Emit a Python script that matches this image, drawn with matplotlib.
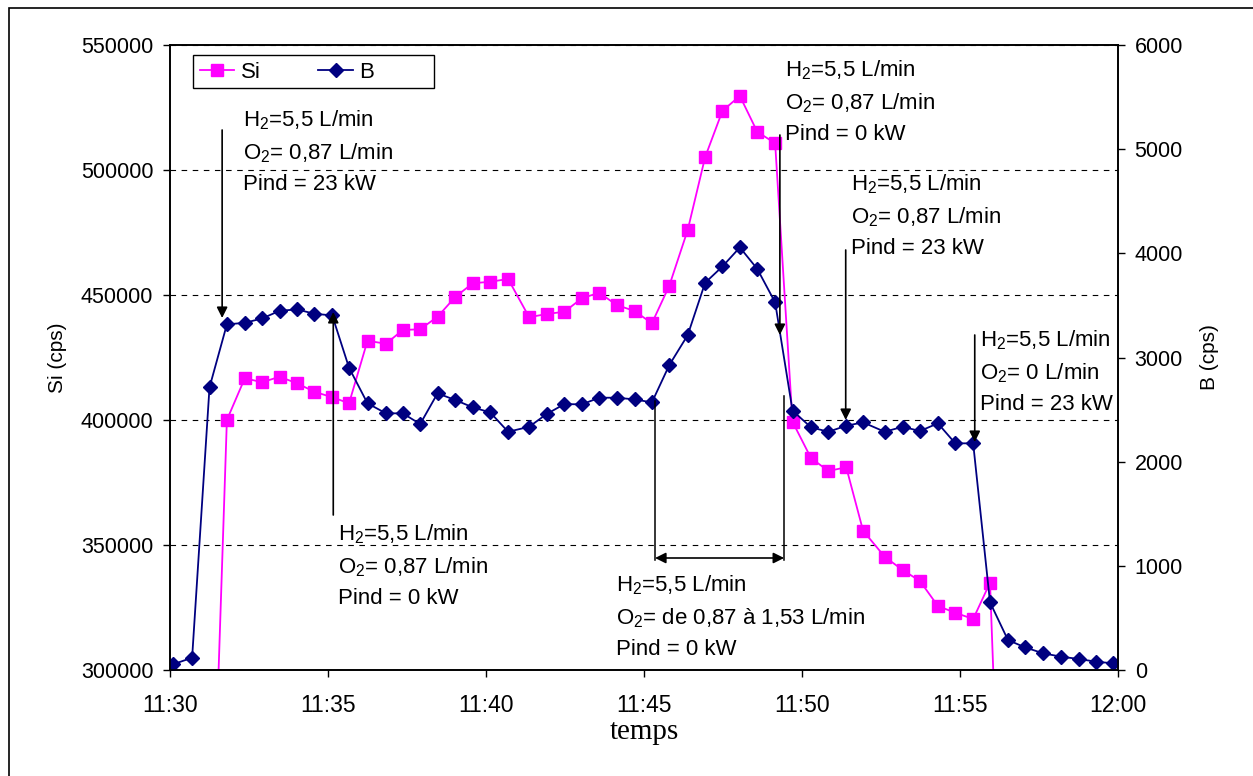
import numpy as np
import pandas as pd
import matplotlib
matplotlib.use("Agg")
import matplotlib.pyplot as plt
import matplotlib.dates as mdates
from matplotlib.patches import Rectangle

plt.rcParams["font.family"] = ["Liberation Sans", "DejaVu Sans"]
plt.rcParams["mathtext.fontset"] = "custom"
plt.rcParams["mathtext.rm"] = "Liberation Sans"

# sampling times (hh:mm:ss), shared by both series
times = [
    "11:30:06", "11:30:42", "11:31:15", "11:31:48", "11:32:22", "11:32:55",
    "11:33:28", "11:34:01", "11:34:34", "11:35:08", "11:35:40", "11:36:15",
    "11:36:50", "11:37:22", "11:37:55", "11:38:28", "11:39:02", "11:39:35",
    "11:40:08", "11:40:42", "11:41:22", "11:41:55", "11:42:29", "11:43:02",
    "11:43:35", "11:44:08", "11:44:42", "11:45:15", "11:45:48", "11:46:23",
    "11:46:56", "11:47:29", "11:48:02", "11:48:35", "11:49:09", "11:49:42",
    "11:50:17", "11:50:50", "11:51:24", "11:51:56", "11:52:37", "11:53:11",
    "11:53:44", "11:54:18", "11:54:51", "11:55:25", "11:55:57", "11:56:31",
    "11:57:03", "11:57:38", "11:58:12", "11:58:45", "11:59:18", "11:59:51",
]

si_cps = [
    np.nan, np.nan, 190000, 400000, 416700, 415100, 417300, 414700, 411300,
    409100, 406700, 431700, 430500, 436000, 436300, 441300, 449300, 454700,
    455300, 456400, 441100, 442400, 443300, 448700, 450900, 446000, 443600,
    438700, 453700, 476000, 505100, 523700, 529600, 515300, 510700, 399300,
    384800, 379600, 381100, 355700, 345300, 340000, 335600, 325600, 322900,
    320400, 334900, 140000, np.nan, np.nan, np.nan, np.nan, np.nan, np.nan,
]

b_cps = [
    55, 118, 2713, 3318, 3333, 3375, 3448, 3462, 3420, 3404, 2901, 2560,
    2464, 2464, 2361, 2656, 2591, 2521, 2473, 2287, 2335, 2457, 2553, 2550,
    2614, 2614, 2598, 2569, 2927, 3215, 3717, 3874, 4057, 3851, 3529, 2490,
    2330, 2287, 2345, 2377, 2287, 2335, 2294, 2368, 2176, 2176, 650, 288,
    218, 160, 128, 106, 80, 64,
]

si_ticks = [300000, 350000, 400000, 450000, 500000, 550000]
b_ticks = [0, 1000, 2000, 3000, 4000, 5000, 6000]


def t(s):
    # clock time -> matplotlib date number
    return mdates.date2num(pd.Timestamp("2000-01-01 " + s).to_pydatetime())


x = [t(s) for s in times]

fig = plt.figure(figsize=(12.53, 7.76), dpi=100)
ax = fig.add_axes([170 / 1253, 1 - 670 / 776, 948 / 1253, 625 / 776])
ax2 = ax.twinx()

# outer chart border
fig.patches.append(Rectangle((9 / 1253, -0.05), 1.2, 0.05 + 1 - 8 / 776,
                             transform=fig.transFigure, fill=False,
                             edgecolor="black", lw=1.2))

ax.plot(x, si_cps, color="#FF00FF", lw=1.3, marker="s", ms=9,
        mec="#FF00FF", mfc="#FF00FF", label="Si")
ax2.plot(x, b_cps, color="#000080", lw=1.3, marker="D", ms=7,
         mec="#000080", mfc="#000080", label="B")

ax.set_xlim(t("11:30:00"), t("12:00:00"))
ax.set_ylim(300000, 550000)
ax2.set_ylim(0, 6000)
ax.set_yticks(si_ticks)
ax2.set_yticks(b_ticks)
ax.xaxis.set_major_locator(mdates.MinuteLocator(byminute=range(0, 60, 5)))
ax.xaxis.set_major_formatter(mdates.DateFormatter("%H:%M"))

ax.yaxis.grid(True, linestyle=(0, (5, 5)), color="black", lw=0.8)
ax.set_axisbelow(True)

for a in (ax, ax2):
    a.tick_params(axis="y", direction="out", length=5, width=1, labelsize=15.5, pad=7)
    for sp in a.spines.values():
        sp.set_linewidth(1.2)
ax.tick_params(axis="x", direction="out", length=5, width=1, labelsize=16.5, pad=12)

ax.set_ylabel("Si (cps)", fontsize=15, labelpad=10)
ax2.set_ylabel("B (cps)", fontsize=15, rotation=90, labelpad=12)
ax.set_xlabel("temps", fontsize=21, family=["Liberation Serif", "DejaVu Serif"],
              labelpad=2)

# legend, with a plain rectangular frame like the original
h1, l1 = ax.get_legend_handles_labels()
h2, l2 = ax2.get_legend_handles_labels()
leg = ax2.legend(h1 + h2, l1 + l2, loc="upper left", bbox_to_anchor=(0.0243, 0.984),
                 ncol=2, frameon=False, fontsize=16, handlelength=1.55,
                 columnspacing=2.6, borderpad=0.3, borderaxespad=0,
                 handletextpad=0.3)
ax2.add_patch(Rectangle((0.0243, 0.9312), 0.2542, 0.0528, transform=ax2.transAxes,
                        fill=True, facecolor="white", edgecolor="black", lw=1.0,
                        zorder=4))
leg.set_zorder(5)

# annotations (positions in Si-axis data units)
tr = ax.transData
arrow_kw = dict(arrowstyle="-|>", color="black", lw=1.2, mutation_scale=16,
                shrinkA=0, shrinkB=0)
txt_kw = dict(fontsize=16, va="top", ha="left", linespacing=1.55, zorder=10)


def label(h2o, o2, p):
    return "H$_2$=" + h2o + " L/min\nO$_2$= " + o2 + " L/min\nPind = " + p + " kW"


arrows = [
    ("11:31:39", 516000, 440800),
    ("11:35:10", 362000, 443200),
    ("11:49:18", 514000, 434000),
    ("11:51:23", 468000, 400000),
    ("11:55:28", 434000, 391200),
]
for tm, y0, y1 in arrows:
    ax2.annotate("", xy=(t(tm), y1), xytext=(t(tm), y0), xycoords=tr,
                 textcoords=tr, arrowprops=arrow_kw, zorder=10)

texts = [
    ("11:32:19", 524800, label("5,5", "0,87", "23")),
    ("11:35:19", 359200, label("5,5", "0,87", "0")),
    ("11:49:28", 544800, label("5,5", "0,87", "0")),
    ("11:51:33", 499200, label("5,5", "0,87", "23")),
    ("11:55:38", 436800, label("5,5", "0", "23")),
    ("11:44:07", 338800, label("5,5", "de 0,87 à 1,53", "0")),
]
for tm, y, s in texts:
    ax2.text(t(tm), y, s, transform=tr, **txt_kw)

# bracket for the O2 ramp
for tm, ytop in (("11:45:21", 407600), ("11:49:26", 409600)):
    ax2.plot([t(tm), t(tm)], [ytop, 344000], color="black", lw=1.1,
             transform=tr, zorder=10)
ax2.annotate("", xy=(t("11:49:26"), 344800), xytext=(t("11:45:21"), 344800),
             xycoords=tr, textcoords=tr,
             arrowprops=dict(arrowstyle="<|-|>", color="black", lw=1.2,
                             mutation_scale=16, shrinkA=0, shrinkB=0),
             zorder=10)

fig.savefig("out.png", dpi=100)
